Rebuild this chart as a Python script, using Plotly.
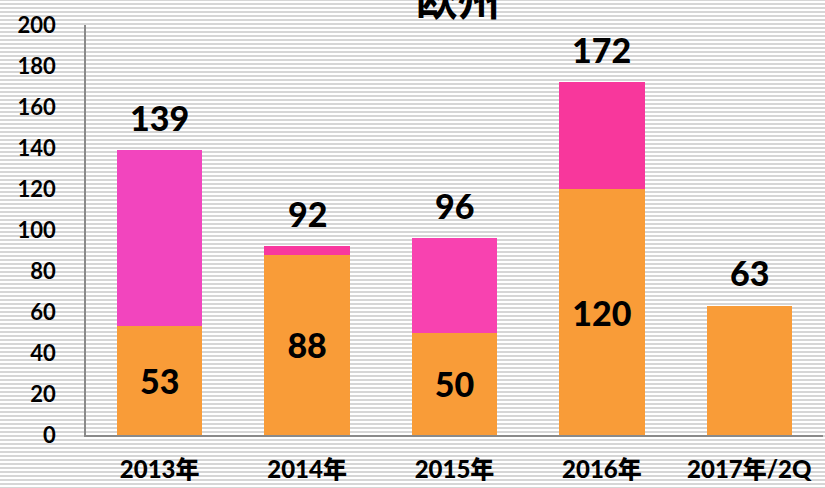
import plotly.graph_objects as go

# data
categories = ["2013年", "2014年", "2015年", "2016年", "2017年/2Q"]
base_values = [53, 88, 50, 120, 63]
total_values = [139, 92, 96, 172, 63]
top_values = [t - b for t, b in zip(total_values, base_values)]
base_labels = ["53", "88", "50", "120", ""]
y_ticks = list(range(0, 201, 20))

W, H = 825, 488
M = dict(l=86, r=2, t=25, b=53)
plot_h = H - M["t"] - M["b"]
plot_w = W - M["l"] - M["r"]

num_font = dict(family="Lato, Carlito, Arial", size=34, color="black", weight=900)

fig = go.Figure()

fig.add_trace(go.Bar(
    x=categories, y=base_values,
    marker=dict(color="#F99C38", line=dict(width=0)),
    text=base_labels, textposition="inside", insidetextanchor="middle",
    textfont=num_font, hoverinfo="skip", showlegend=False,
))
fig.add_trace(go.Bar(
    x=categories, y=top_values,
    marker=dict(color=["#F245BE", "#F8389E", "#F842B0", "#F8379C", "#F8379C"],
                line=dict(width=0)),
    hoverinfo="skip", showlegend=False,
))

# total labels above the bars
for c, t in zip(categories, total_values):
    fig.add_annotation(x=c, y=t, text=str(t), showarrow=False, yshift=33,
                       font=num_font)

# striped background
shapes = []
y_px = 0
while y_px < H + 4:
    yp = (H - M["b"] - y_px) / plot_h
    shapes.append(dict(type="line", xref="paper", yref="paper",
                       x0=-M["l"] / plot_w, x1=1 + M["r"] / plot_w,
                       y0=yp, y1=yp, layer="below",
                       line=dict(color="#d6d6d6", width=2)))
    y_px += 4
fig.update_layout(shapes=shapes)

fig.update_layout(
    width=W, height=H,
    margin=M,
    barmode="stack",
    bargap=0.42,
    paper_bgcolor="white",
    plot_bgcolor="rgba(0,0,0,0)",
    title=dict(text="欧州", x=0.555, xanchor="center", y=0.998, yanchor="middle",
               font=dict(family="Noto Sans CJK JP", size=42, color="black", weight="bold")),
    xaxis=dict(
        showline=True, linecolor="#8a8a8a", linewidth=1.5,
        showgrid=False, ticks="", automargin=False,
        tickfont=dict(family="Lato, Noto Sans CJK JP", size=24, color="black", weight=900),
        ticklabelstandoff=12,
    ),
    yaxis=dict(
        range=[0, 200], tickvals=y_ticks,
        showline=True, linecolor="#8a8a8a", linewidth=1.5,
        showgrid=False, zeroline=False, ticks="", automargin=False,
        tickfont=dict(family="Lato, Carlito, Arial", size=22, color="black", weight="bold"),
        ticklabelstandoff=24,
    ),
)

fig.write_html("out.html", config={"displayModeBar": False},
               post_script="document.body.style.margin='0';")
